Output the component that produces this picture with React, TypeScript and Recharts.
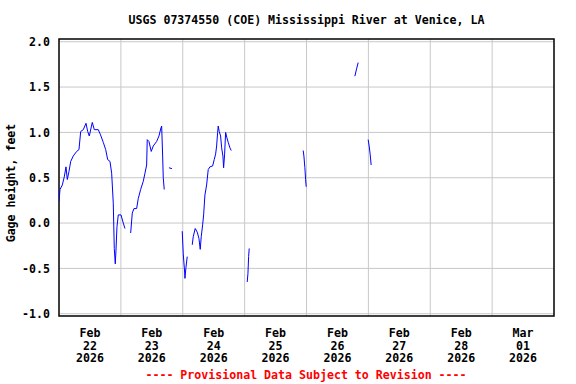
import React from "react";
import {
  LineChart,
  Line,
  XAxis,
  YAxis,
  CartesianGrid,
  ReferenceArea,
} from "recharts";

// Hours since Feb 22 2026 00:00 (null gage value = data gap)
const hours: number[] = [
  0, 0.39, 1.28, 2.05, 2.71, 3.22, 3.88, 4.54, 5.54, 6.86, 7.75, 8.41, 9.42, 10.47, 11.13, 11.75,
  12.91, 13.69, 15.24, 16.01, 17.18, 18.11, 18.88, 19.77, 20.43, 21.05, 21.44, 21.83, 22.1, 22.49,
  22.99, 24.04, 24.93, 25.59,
  26.7,
  27.8, 28.42, 29.08, 30.12, 30.74, 31.67, 32.68, 33.34, 34.0, 34.23, 34.89, 35.78, 36.56, 37.88,
  38.77, 39.55, 39.82, 40.2, 40.44, 40.82,
  41.7,
  42.65, 43.81,
  45.8,
  47.8, 48.19, 48.73, 48.85, 49.24, 49.74,
  50.7,
  51.68, 52.07, 52.84, 53.62, 54.28, 54.78, 55.17, 55.71, 56.1, 56.6, 57.26, 57.88, 58.54, 59.59,
  60.21, 60.75, 61.14, 61.53, 61.76, 62.15, 62.69, 63.08, 63.58, 63.85, 64.24, 64.63, 65.13, 65.64,
  66.3, 66.8,
  70.0,
  73.0, 73.28, 73.55, 73.78,
  84.0,
  94.71, 94.99, 95.37, 95.65, 95.88,
  105.0,
  114.76, 115.42, 116.04,
  118.0,
  119.92, 120.3, 120.69, 121.08,
];

const gageFeet: (number | null)[] = [
  0.24, 0.37, 0.42, 0.51, 0.62, 0.48, 0.57, 0.68, 0.74, 0.79, 0.81, 1.01, 1.03, 1.1, 1.01, 0.96,
  1.11, 1.03, 1.03, 0.98, 0.89, 0.81, 0.7, 0.68, 0.55, 0.22, -0.28, -0.45, -0.3, -0.04,
  0.09, 0.09, 0.0, -0.06,
  null,
  -0.11, 0.11, 0.16, 0.16, 0.27, 0.37, 0.46, 0.55, 0.64, 0.92, 0.9, 0.79, 0.85, 0.9,
  0.96, 1.05, 1.07, 0.74, 0.5, 0.37,
  null,
  0.61, 0.6,
  null,
  -0.09, -0.34, -0.54, -0.61, -0.49, -0.37,
  null,
  -0.24, -0.15, -0.06, -0.1, -0.17, -0.29, -0.15, -0.02, 0.09, 0.31, 0.42, 0.59, 0.62, 0.63,
  0.7, 0.76, 0.85, 1.0, 1.07, 1.01, 0.96, 0.83, 0.74, 0.61, 0.76, 1.0, 0.94, 0.89,
  0.83, 0.8,
  null,
  -0.65, -0.56, -0.37, -0.28,
  null,
  0.8, 0.74, 0.61, 0.48, 0.4,
  null,
  1.62, 1.7, 1.77,
  null,
  0.92, 0.85, 0.76, 0.64,
];

const tickHours = [12, 36, 60, 84, 108, 132, 156, 180];
const tickMonths = ["Feb", "Feb", "Feb", "Feb", "Feb", "Feb", "Feb", "Mar"];
const tickDays = ["22", "23", "24", "25", "26", "27", "28", "01"];
const tickYears = ["2026", "2026", "2026", "2026", "2026", "2026", "2026", "2026"];
const dayBoundaries = [24, 48, 72, 96, 120, 144, 168];
const yTicks = [-1, -0.5, 0, 0.5, 1, 1.5, 2];

const X_MIN = 0;
const X_MAX = 192;
const Y_MIN = -1.025;
const Y_MAX = 2.03;

const data = hours.map((t, i) => ({ t, v: gageFeet[i] }));

const FONT = "'DejaVu Sans Mono', 'Liberation Mono', monospace";

const DateTick = (props: any) => {
  const { x, y, payload } = props;
  const i = tickHours.indexOf(payload.value);
  if (i < 0) return null;
  return (
    <text
      x={x}
      y={y}
      textAnchor="middle"
      fontFamily={FONT}
      fontWeight="bold"
      fontSize={11.6}
      fill="#000"
    >
      <tspan x={x} y={y + 19}>{tickMonths[i]}</tspan>
      <tspan x={x} y={y + 31.5}>{tickDays[i]}</tspan>
      <tspan x={x} y={y + 44}>{tickYears[i]}</tspan>
    </text>
  );
};

export default function App() {
  return (
    <div
      style={{
        position: "absolute",
        left: 0,
        top: 0,
        width: 576,
        height: 384,
        background: "#fff",
        fontFamily: FONT,
      }}
    >
      <div
        style={{
          position: "absolute",
          left: 0,
          width: 613,
          top: 12,
          textAlign: "center",
          fontWeight: "bold",
          fontSize: 11.6,
          lineHeight: "16px",
          color: "#000",
          whiteSpace: "pre",
        }}
      >
        USGS 07374550 (COE) Mississippi River at Venice, LA
      </div>
      <LineChart
        width={576}
        height={384}
        data={data}
        margin={{ top: 39, right: 22, bottom: 0, left: 0 }}
      >
        <CartesianGrid
          stroke="#c8c8c8"
          strokeWidth={1}
          verticalValues={dayBoundaries}
          horizontalValues={yTicks}
        />
        <XAxis
          type="number"
          dataKey="t"
          domain={[X_MIN, X_MAX]}
          ticks={tickHours}
          allowDataOverflow
          axisLine={false}
          tickLine={false}
          tickSize={0}
          height={68}
          interval={0}
          tick={<DateTick />}
        />
        <YAxis
          type="number"
          domain={[Y_MIN, Y_MAX]}
          ticks={yTicks}
          allowDataOverflow
          axisLine={false}
          tickLine={false}
          tickSize={0}
          tickMargin={9}
          width={59}
          interval={0}
          tickFormatter={(v: number) => v.toFixed(1)}
          tick={{
            fontFamily: FONT,
            fontWeight: "bold",
            fontSize: 11.6,
            fill: "#000",
          }}
        />
        <ReferenceArea
          x1={X_MIN}
          x2={X_MAX}
          y1={Y_MIN}
          y2={Y_MAX}
          fill="none"
          fillOpacity={0}
          stroke="#000"
          strokeWidth={1.5}
          ifOverflow="visible"
        />
        <Line
          type="linear"
          dataKey="v"
          stroke="#0000ff"
          strokeWidth={1}
          dot={false}
          activeDot={false}
          connectNulls={false}
          isAnimationActive={false}
        />
      </LineChart>
      <div
        style={{
          position: "absolute",
          left: 11,
          top: 183,
          transform: "translate(-50%, -50%) rotate(-90deg)",
          fontWeight: "bold",
          fontSize: 11.6,
          whiteSpace: "pre",
          color: "#000",
        }}
      >
        Gage height, feet
      </div>
      <div
        style={{
          position: "absolute",
          left: 0,
          width: 612,
          top: 367,
          textAlign: "center",
          fontWeight: "bold",
          fontSize: 11.6,
          lineHeight: "16px",
          color: "#ff0000",
          whiteSpace: "pre",
        }}
      >
        ---- Provisional Data Subject to Revision ----
      </div>
    </div>
  );
}
